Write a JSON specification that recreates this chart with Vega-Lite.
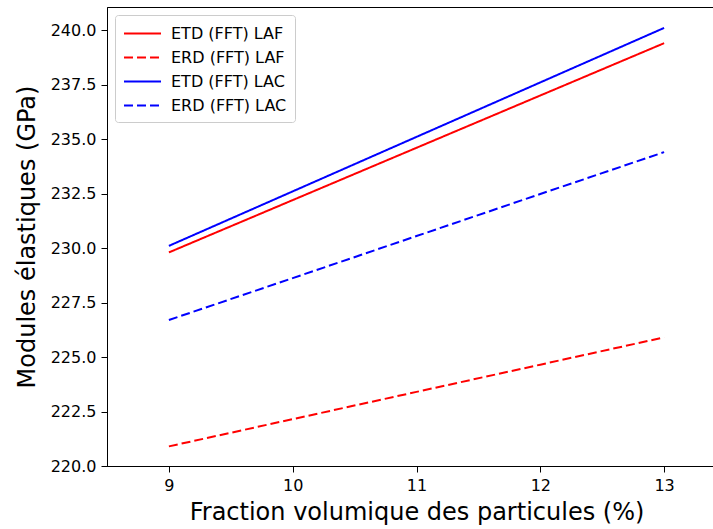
{
  "$schema": "https://vega.github.io/schema/vega-lite/v6.json",
  "autosize": {"type": "none"},
  "padding": {"left": 107, "top": 7, "right": 0, "bottom": 63},
  "width": 619,
  "height": 459,
  "background": "white",
  "config": {
    "font": "DejaVu Sans",
    "view": {"stroke": "black", "strokeWidth": 1},
    "axis": {"grid": false, "domainColor": "black", "tickColor": "black", "labelColor": "black", "titleColor": "black", "labelFontSize": 16, "titleFontSize": 24, "titleFontWeight": "normal", "tickSize": 6, "labelPadding": 5}
  },
  "data": {
    "values": [
      {"x": 9, "y": 229.8, "s": "LAF_TD"}, {"x": 10, "y": 232.2, "s": "LAF_TD"}, {"x": 11, "y": 234.6, "s": "LAF_TD"}, {"x": 12, "y": 237.0, "s": "LAF_TD"}, {"x": 13, "y": 239.4, "s": "LAF_TD"},
      {"x": 9, "y": 220.9, "s": "LAF_RD"}, {"x": 10, "y": 222.15, "s": "LAF_RD"}, {"x": 11, "y": 223.4, "s": "LAF_RD"}, {"x": 12, "y": 224.65, "s": "LAF_RD"}, {"x": 13, "y": 225.9, "s": "LAF_RD"},
      {"x": 9, "y": 230.1, "s": "LAC_TD"}, {"x": 10, "y": 232.6, "s": "LAC_TD"}, {"x": 11, "y": 235.1, "s": "LAC_TD"}, {"x": 12, "y": 237.6, "s": "LAC_TD"}, {"x": 13, "y": 240.1, "s": "LAC_TD"},
      {"x": 9, "y": 226.7, "s": "LAC_RD"}, {"x": 10, "y": 228.62, "s": "LAC_RD"}, {"x": 11, "y": 230.55, "s": "LAC_RD"}, {"x": 12, "y": 232.48, "s": "LAC_RD"}, {"x": 13, "y": 234.4, "s": "LAC_RD"}
    ]
  },
  "mark": {"type": "line", "strokeWidth": 2, "clip": true},
  "encoding": {
    "x": {"field": "x", "type": "quantitative", "scale": {"domain": [8.5, 13.5], "nice": false, "zero": false}, "axis": {"values": [9, 10, 11, 12, 13], "format": "d", "title": "Fraction volumique des particules (%)", "titlePadding": 7}},
    "y": {"field": "y", "type": "quantitative", "scale": {"domain": [220, 241.06], "nice": false, "zero": false}, "axis": {"values": [220, 222.5, 225, 227.5, 230, 232.5, 235, 237.5, 240], "format": ".1f", "title": "Modules élastiques (GPa)", "titlePadding": 11}},
    "color": {"field": "s", "type": "nominal", "scale": {"domain": ["LAF_TD", "LAF_RD", "LAC_TD", "LAC_RD"], "range": ["#ff0000", "#ff0000", "#0000ff", "#0000ff"]},
      "legend": {"title": null, "orient": "top-left", "offset": 8, "labelFontSize": 16, "symbolType": "M-2,0H2", "symbolSize": 342, "symbolStrokeWidth": 2, "symbolOffset": 9, "rowPadding": 5, "labelOffset": 18, "padding": 8, "strokeColor": "#cccccc", "fillColor": "white", "cornerRadius": 3,
        "labelExpr": "{'LAF_TD': 'ETD (FFT) LAF', 'LAF_RD': 'ERD (FFT) LAF', 'LAC_TD': 'ETD (FFT) LAC', 'LAC_RD': 'ERD (FFT) LAC'}[datum.value]"}},
    "strokeDash": {"field": "s", "type": "nominal", "scale": {"domain": ["LAF_TD", "LAF_RD", "LAC_TD", "LAC_RD"], "range": [[1, 0], [9, 4], [1, 0], [9, 4]]}}
  }
}
